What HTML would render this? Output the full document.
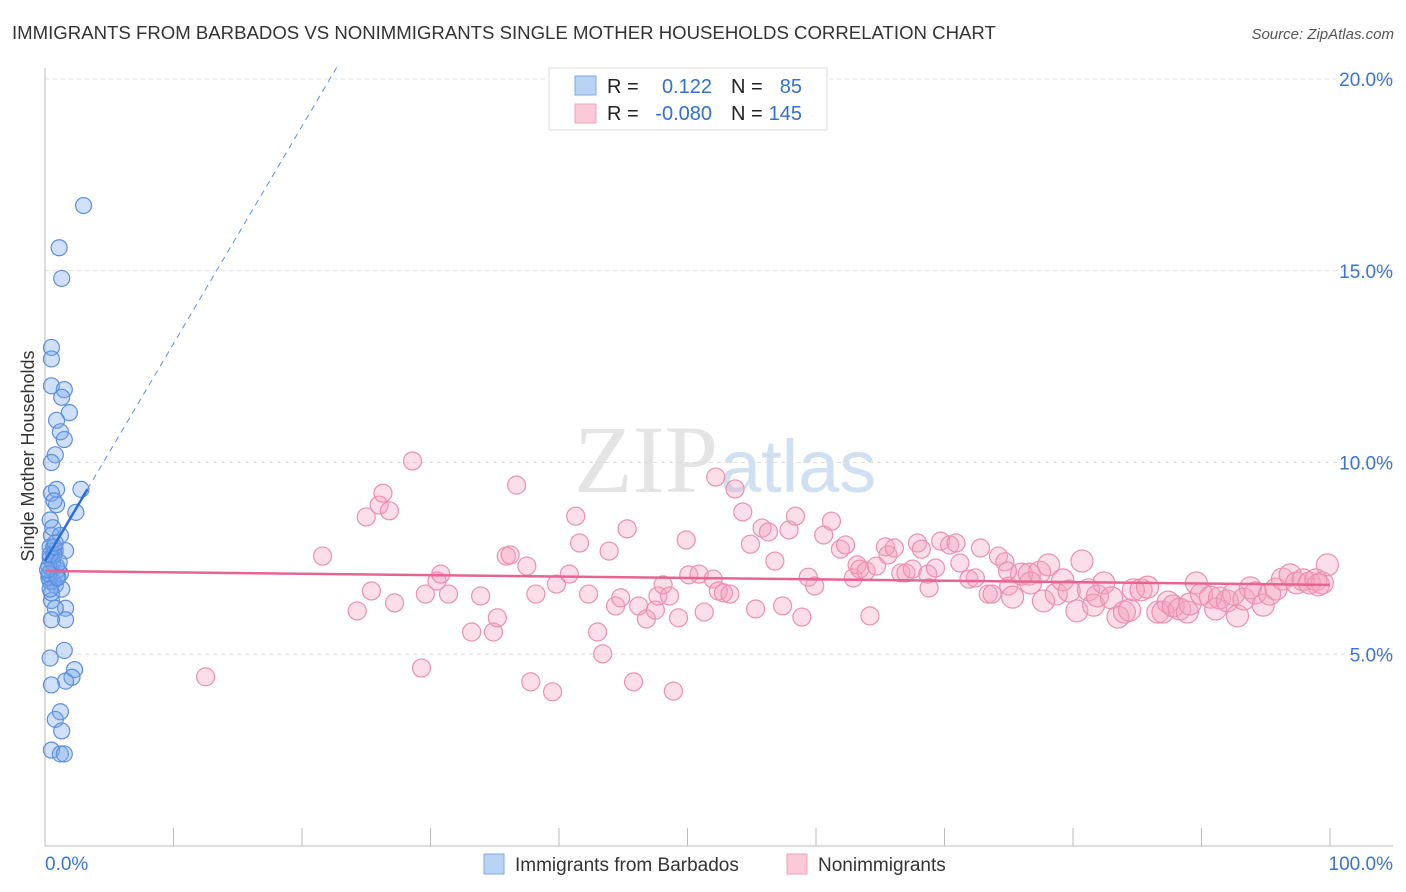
<!DOCTYPE html>
<html><head><meta charset="utf-8"><style>
body{margin:0;background:#fff;font-family:"Liberation Sans",sans-serif}
svg{display:block}
</style></head><body>
<svg id="chart" width="1406" height="892" font-family="Liberation Sans, sans-serif">
<text x="12" y="39" font-size="18.6" fill="#333">IMMIGRANTS FROM BARBADOS VS NONIMMIGRANTS SINGLE MOTHER HOUSEHOLDS CORRELATION CHART</text>
<text x="1394" y="39" font-size="15" fill="#555" font-style="italic" text-anchor="end">Source: ZipAtlas.com</text>
<text x="718" y="492" font-size="96" fill="#e4e4e4" font-family="Liberation Serif, serif" text-anchor="end">ZIP</text>
<text x="720" y="492" font-size="74" fill="#d0e0f3">atlas</text>
<g id="grid"></g><g id="axes"></g><g id="pink"></g><g id="blue"></g><g id="trend"></g>
<text transform="translate(34,456) rotate(-90)" font-size="18" fill="#333" text-anchor="middle">Single Mother Households</text>
<g>
<rect x="549" y="68" width="278" height="62" fill="#fff" stroke="#ddd"/>
<rect x="575" y="76" width="21" height="19" fill="#b9d3f5" stroke="#7fa8e6"/>
<rect x="575" y="104" width="21" height="19" fill="#fcc9d8" stroke="#f0a0ba"/>
<text x="607" y="93" font-size="20" fill="#222">R =</text>
<text x="712" y="93" font-size="20" fill="#2f6fd6" text-anchor="end">0.122</text>
<text x="731" y="93" font-size="20" fill="#222">N =</text>
<text x="802" y="93" font-size="20" fill="#2f6fd6" text-anchor="end">85</text>
<text x="607" y="120" font-size="20" fill="#222">R =</text>
<text x="712" y="120" font-size="20" fill="#2f6fd6" text-anchor="end">-0.080</text>
<text x="731" y="120" font-size="20" fill="#222">N =</text>
<text x="802" y="120" font-size="20" fill="#2f6fd6" text-anchor="end">145</text>
</g>
<g>
<rect x="484" y="854" width="20" height="20" fill="#b9d3f5" stroke="#7fa8e6"/>
<text x="515" y="871" font-size="19" fill="#333">Immigrants from Barbados</text>
<rect x="787" y="854" width="20" height="20" fill="#fcc9d8" stroke="#f0a0ba"/>
<text x="818" y="871" font-size="19" fill="#333">Nonimmigrants</text>
</g>
</svg>
<script>
const yTicks=[5,10,15,20];
const yTickLabels=["5.0%","10.0%","15.0%","20.0%"];
const xEndLabels=["0.0%","100.0%"];
const blueX=[3.0,1.1,1.3,0.5,0.5,0.5,1.5,1.3,1.9,0.9,1.2,1.5,0.8,0.5,0.9,0.5,0.9,2.8,2.4,0.4,0.5,1.2,0.4,0.8,1.6,0.4,0.9,0.5,1.2,0.4,0.8,1.3,0.5,1.6,0.8,1.6,0.5,1.5,0.4,2.3,2.1,1.6,0.5,1.2,0.8,1.3,0.5,1.2,1.5,0.3,0.6,0.7,1.0,0.3,0.6,0.9,0.4,0.7,1.1,0.3,0.5,0.8,0.6,0.4,1.0,0.2,0.7];
const blueY=[16.7,15.6,14.8,13.0,12.7,12.0,11.9,11.7,11.3,11.1,10.8,10.6,10.2,10.0,9.3,9.2,8.9,9.3,8.7,8.5,8.1,8.1,7.8,7.7,7.7,7.5,7.3,7.2,7.1,6.9,6.8,6.7,6.4,6.2,6.2,5.9,5.9,5.1,4.9,4.6,4.4,4.3,4.2,3.5,3.3,3.0,2.5,2.4,2.4,7.0,7.4,7.6,7.2,7.3,6.9,7.0,7.6,7.8,7.4,7.1,6.6,7.9,8.3,6.7,7.0,7.2,9.0];
const pinkX=[12.5,21.6,24.3,25.0,25.4,26.0,26.3,26.8,27.2,28.6,29.3,29.6,30.5,30.8,31.4,33.2,33.9,34.9,35.2,35.9,36.2,36.7,37.5,37.8,38.2,39.5,39.8,40.8,41.3,41.6,42.3,43.0,43.4,43.9,44.4,44.8,45.3,45.8,46.2,46.8,47.5,47.7,48.1,48.6,48.9,49.3,49.9,50.1,50.9,51.3,52.0,52.2,52.4,52.8,53.3,53.7,54.3,54.9,55.3,55.8,56.3,56.8,57.4,57.9,58.4,58.9,59.4,59.9,60.6,61.2,61.9,62.3,62.9,63.2,63.4,63.9,64.2,64.7,65.4,65.6,66.1,66.6,67.0,67.5,67.9,68.2,68.7,69.3,69.7,70.4,70.9,71.2,71.9,72.4,72.8,73.4,73.7,74.2,74.7,75.0,75.3,76.0,76.6,76.7,77.4,77.7,78.1,78.7,79.2,79.7,80.3,80.7,81.2,81.6,81.9,82.4,83.0,83.5,84.0,84.4,84.7,85.3,85.8,86.6,87.0,87.4,87.8,88.3,88.9,89.1,89.6,90.0,90.7,91.1,91.4,92.0,92.5,92.8,93.3,93.8,94.2,94.8,95.3,95.8,96.3,96.9,97.4,97.9,98.4,98.9,99.4,99.8,99.1,74.9,68.8];
const pinkY=[4.41,7.56,6.13,8.58,6.65,8.89,9.20,8.74,6.34,10.04,4.64,6.57,6.91,7.09,6.57,5.58,6.52,5.58,5.95,7.56,7.59,9.41,7.30,4.28,6.57,4.02,6.83,7.09,8.60,7.90,6.57,5.58,5.01,7.69,6.26,6.47,8.27,4.28,6.26,5.92,6.15,6.52,6.81,6.52,4.04,5.95,7.98,7.07,7.09,6.10,6.96,9.62,6.65,6.60,6.57,9.31,8.71,7.87,6.18,8.29,8.19,7.43,6.26,8.24,8.60,5.97,7.01,6.78,8.11,8.47,7.74,7.85,6.99,7.33,7.22,7.17,6.00,7.30,7.80,7.59,7.77,7.12,7.12,7.22,7.90,7.74,7.09,7.25,7.95,7.85,7.90,7.38,6.96,6.99,7.77,6.57,6.57,7.56,7.41,6.78,6.49,7.09,7.09,6.86,7.14,6.39,7.33,6.57,6.94,6.65,6.13,7.43,6.68,6.28,6.52,6.86,6.47,5.97,6.10,6.15,6.68,6.68,6.75,6.10,6.10,6.36,6.26,6.18,6.10,6.31,6.86,6.57,6.49,6.18,6.47,6.39,6.57,6.00,6.44,6.73,6.60,6.28,6.57,6.70,6.96,7.07,6.86,6.94,6.86,6.94,6.86,7.33,6.81,7.17,6.73];
const blueTrend=[7.43,0.567];
const pinkTrend=[7.17,-0.0036];

const NS="http://www.w3.org/2000/svg";
const X0=45,X1=1330,Y0=846,PX=(X1-X0)/100,PY=38.35;
const sx=v=>X0+v*PX, sy=v=>Y0-v*PY;
function mk(tag,attrs,parent){const e=document.createElementNS(NS,tag);for(const k in attrs)e.setAttribute(k,attrs[k]);document.getElementById(parent).appendChild(e);return e;}

yTicks.forEach((t,i)=>{
 const g=mk('line',{x1:X0,x2:1393,y1:sy(t),y2:sy(t),stroke:'#ddd','stroke-dasharray':'4,4'},'grid');
 
 
 const l=mk('text',{x:1393,y:sy(t)+7,'font-size':19,fill:'#3a74d4','text-anchor':'end'},'axes');
 l.textContent=yTickLabels[i];
 
 
});
const topGrid=mk('line',{x1:X0,x2:1393,y1:79,y2:79,stroke:'#ddd','stroke-dasharray':'4,4'},'grid');


const ya=mk('line',{x1:X0,x2:X0,y1:68,y2:Y0,stroke:'#bbb'},'axes');


const xa=mk('line',{x1:X0,x2:1393,y1:Y0,y2:Y0,stroke:'#bbb'},'axes');


for(let i=1;i<=10;i++){
 const t=mk('line',{x1:sx(i*10),x2:sx(i*10),y1:828,y2:Y0,stroke:'#bbb'},'axes');
 
 
}
[[0,'start',45],[100,'end',1393]].forEach((a,i)=>{
 const t=mk('text',{x:a[2],y:870,'font-size':19,fill:'#3a74d4','text-anchor':a[1]},'axes');
 t.textContent=xEndLabels[i];
 
 
});

pinkX.forEach((x,i)=>{
 const c=mk('circle',{cx:sx(x),cy:sy(pinkY[i]),r:x>75?11:9,fill:'rgba(244,160,190,0.35)',stroke:'#ec8fb0','stroke-width':1.2},'pink');
 
 
});
blueX.forEach((x,i)=>{
 const c=mk('circle',{cx:sx(x),cy:sy(blueY[i]),r:8,fill:'rgba(120,165,235,0.35)',stroke:'#5a8fe0','stroke-width':1.2},'blue');
 
 
});
const bt=mk('line',{x1:sx(0),y1:sy(blueTrend[0]),x2:sx(3.3),y2:sy(blueTrend[0]+blueTrend[1]*3.3),stroke:'#2a6fd6','stroke-width':2.5},'trend');


const bx=(20.3-blueTrend[0])/blueTrend[1];
const bd=mk('line',{x1:sx(3.3),y1:sy(blueTrend[0]+blueTrend[1]*3.3),x2:sx(bx),y2:sy(20.3),stroke:'#5a8fe0','stroke-width':1,'stroke-dasharray':'6,5'},'trend');


const pt=mk('line',{x1:sx(0),y1:sy(pinkTrend[0]),x2:sx(100),y2:sy(pinkTrend[0]+pinkTrend[1]*100),stroke:'#e8648f','stroke-width':2.5},'trend');


</script>
</body></html>
